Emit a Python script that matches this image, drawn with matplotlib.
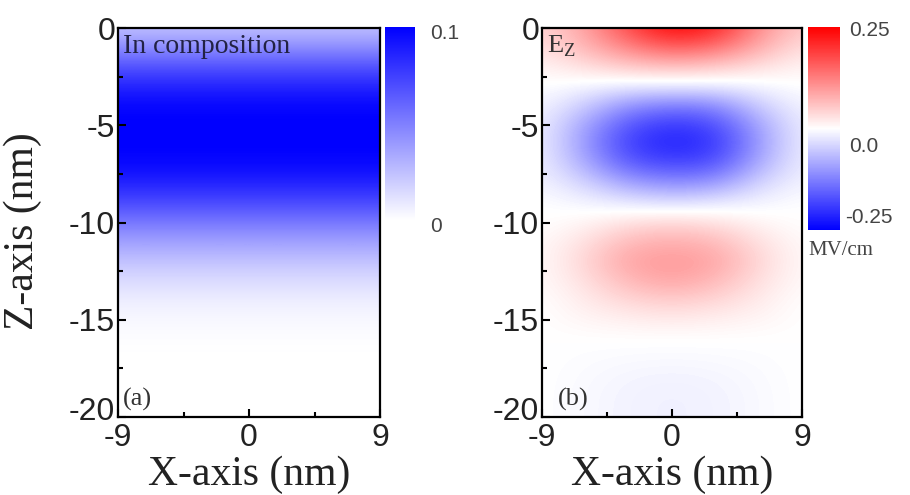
import numpy as np
import matplotlib.pyplot as plt
import matplotlib.transforms as mtransforms
from matplotlib.colors import LinearSegmentedColormap
from matplotlib.ticker import MultipleLocator

plt.rcParams['axes.unicode_minus'] = False

# depth nodes (nm), 1 nm steps from the top surface down
z_nodes = [0, -1, -2, -3, -4, -5, -6, -7, -8, -9, -10,
           -11, -12, -13, -14, -15, -16, -17, -18, -19, -20]
# lateral nodes (nm) for the field map
x_nodes = [-9, -6, -3, 0, 3, 6, 9]

# In composition vs depth (uniform along x)
in_comp = [0.025, 0.045, 0.068, 0.086, 0.098, 0.100, 0.100, 0.097, 0.086, 0.071,
           0.053, 0.037, 0.024, 0.014, 0.007, 0.003, 0.001, 0.0, 0.0, 0.0, 0.0]

# Ez field (MV/cm), one row per depth node, one column per x node
ez = [
    [0.04, 0.09, 0.18, 0.25, 0.22, 0.11, 0.05],
    [0.03, 0.07, 0.12, 0.16, 0.14, 0.08, 0.03],
    [0.01, 0.03, 0.05, 0.06, 0.05, 0.03, 0.01],
    [0.00, -0.01, -0.02, -0.02, -0.02, -0.01, 0.00],
    [-0.01, -0.05, -0.11, -0.13, -0.12, -0.05, -0.01],
    [-0.015, -0.09, -0.17, -0.20, -0.18, -0.09, -0.015],
    [-0.015, -0.10, -0.19, -0.22, -0.20, -0.10, -0.015],
    [-0.015, -0.08, -0.16, -0.18, -0.17, -0.08, -0.015],
    [-0.01, -0.04, -0.09, -0.11, -0.10, -0.04, -0.01],
    [0.00, -0.01, -0.02, -0.03, -0.02, -0.01, 0.00],
    [0.00, 0.01, 0.03, 0.04, 0.03, 0.01, 0.00],
    [0.005, 0.03, 0.07, 0.08, 0.07, 0.03, 0.005],
    [0.005, 0.04, 0.09, 0.10, 0.09, 0.04, 0.005],
    [0.005, 0.03, 0.07, 0.09, 0.07, 0.03, 0.005],
    [0.00, 0.02, 0.04, 0.05, 0.04, 0.02, 0.00],
    [0.00, 0.01, 0.015, 0.02, 0.015, 0.01, 0.00],
    [0.00, 0.00, 0.00, 0.00, 0.00, 0.00, 0.00],
    [0.00, -0.003, -0.005, -0.006, -0.005, -0.003, 0.00],
    [0.00, -0.005, -0.010, -0.012, -0.010, -0.005, 0.00],
    [0.00, -0.006, -0.012, -0.015, -0.012, -0.006, 0.00],
    [0.00, -0.006, -0.012, -0.015, -0.012, -0.006, 0.00],
]

sans = 'Liberation Sans'
serif = 'Liberation Serif'

fig = plt.figure(figsize=(9.1, 4.95), dpi=100)
ax1 = fig.add_axes([0.1297, 0.1576, 0.288, 0.7858])
ax2 = fig.add_axes([0.5956, 0.1576, 0.2857, 0.7858])
cax1 = fig.add_axes([0.423, 0.555, 0.033, 0.39])
cax2 = fig.add_axes([0.888, 0.535, 0.035, 0.41])

white_blue = LinearSegmentedColormap.from_list('wb', ['#ffffff', '#0000ff'])

dz = 0.5
comp_img = np.tile(np.array(in_comp)[:, None], (1, 2))
im1 = ax1.imshow(comp_img, cmap=white_blue, vmin=0, vmax=0.1, aspect='auto',
                 interpolation='bicubic',
                 extent=[-9, 9, z_nodes[-1] - dz, z_nodes[0] + dz])

dx = 1.5
im2 = ax2.imshow(np.array(ez), cmap='bwr', vmin=-0.25, vmax=0.25, aspect='auto',
                 interpolation='bicubic',
                 extent=[x_nodes[0] - dx, x_nodes[-1] + dx,
                         z_nodes[-1] - dz, z_nodes[0] + dz])

lift = mtransforms.ScaledTranslation(0, 6 / 72, fig.dpi_scale_trans)

for ax in (ax1, ax2):
    ax.set_xlim(-9, 9)
    ax.set_ylim(-20, 0)
    ax.set_xticks([-9, 0, 9])
    ax.set_yticks([0, -5, -10, -15, -20])
    ax.xaxis.set_minor_locator(MultipleLocator(4.5))
    ax.yaxis.set_minor_locator(MultipleLocator(2.5))
    ax.tick_params(which='both', direction='in', top=False, right=False,
                   width=1.5, labelsize=23)
    ax.tick_params(axis='x', pad=4)
    ax.tick_params(axis='y', pad=2)
    ax.tick_params(which='major', length=6)
    ax.tick_params(which='minor', length=3.5)
    for lab in ax.get_xticklabels() + ax.get_yticklabels():
        lab.set_fontfamily(sans)
        lab.set_color('#222222')
    # bottom z label sits a bit higher, clear of the -9 label
    ylabs = ax.get_yticklabels()
    ylabs[-1].set_transform(ylabs[-1].get_transform() + lift)
    for sp in ax.spines.values():
        sp.set_linewidth(1.6)
    ax.set_xlabel('X-axis (nm)', fontsize=30, family=serif, color='#222222')
    ax.xaxis.set_label_coords(0.5, -0.1)

ax1.set_ylabel('Z-axis (nm)', fontsize=30, family=serif, color='#222222')
ax1.yaxis.set_label_coords(-0.29, 0.478)

ax1.text(0.02, 0.985, 'In composition', transform=ax1.transAxes, fontsize=20,
         family=serif, color='#222244', va='top', ha='left')
ax1.text(0.02, 0.015, '(a)', transform=ax1.transAxes, fontsize=19,
         family=serif, color='#333333', va='bottom', ha='left')
ax2.text(0.02, 0.985, 'E$_\\mathregular{Z}$', transform=ax2.transAxes, fontsize=19,
         family=serif, color='#333333', va='top', ha='left')
ax2.text(0.06, 0.015, '(b)', transform=ax2.transAxes, fontsize=19,
         family=serif, color='#333333', va='bottom', ha='left')

cb1 = fig.colorbar(im1, cax=cax1)
cb1.outline.set_visible(False)
cb1.set_ticks([])
cax1.text(1.5, 0.97, '0.1', transform=cax1.transAxes, fontsize=15,
          family=sans, color='#444444', va='center', ha='left')
cax1.text(1.5, -0.03, '0', transform=cax1.transAxes, fontsize=15,
          family=sans, color='#444444', va='center', ha='left')

cb2 = fig.colorbar(im2, cax=cax2)
cb2.outline.set_visible(False)
cb2.set_ticks([])
cax2.text(1.3, 0.985, '0.25', transform=cax2.transAxes, fontsize=15,
          family=sans, color='#444444', va='center', ha='left')
cax2.text(1.3, 0.41, '0.0', transform=cax2.transAxes, fontsize=15,
          family=sans, color='#444444', va='center', ha='left')
cax2.text(1.15, 0.06, '-0.25', transform=cax2.transAxes, fontsize=15,
          family=sans, color='#444444', va='center', ha='left')
cax2.text(0.0, -0.1, 'MV/cm', transform=cax2.transAxes, fontsize=15,
          family=serif, color='#444444', va='center', ha='left')

fig.savefig('out.png', dpi=100)
